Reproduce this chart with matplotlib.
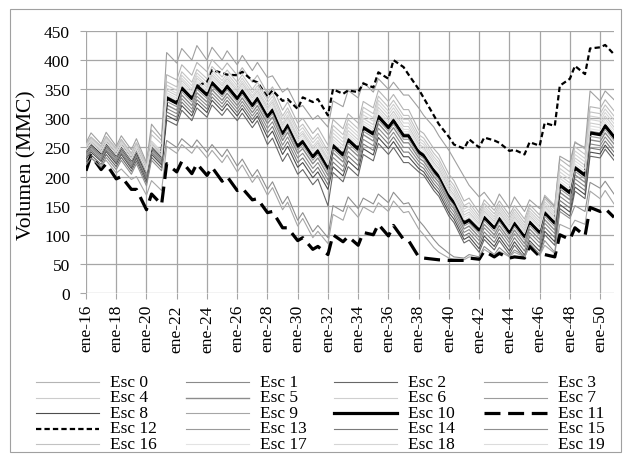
import matplotlib
matplotlib.use('Agg')
import matplotlib.pyplot as plt
from matplotlib.lines import Line2D
from matplotlib.patches import Rectangle

plt.rcParams['font.family'] = ['Liberation Serif', 'DejaVu Serif']

# one low point (January) and one high point (May) per year, plus December 2050
years = list(range(2016, 2051))
months = []
for i, y in enumerate(years):
    months += [12 * i, 12 * i + 4]
months.append(419)

tick_labels = ['ene-%02d' % (y % 100) for y in years[::2]]

# volumes (MMC) per scenario
esc0 = [256, 268, 252, 269, 248, 264, 240, 258, 220, 280, 262,
        375, 366, 392, 374, 396, 380, 401, 383, 395, 374, 387, 362, 374,
        343, 354, 314, 328, 292, 300, 274, 284, 254,
        298, 282, 308, 292, 329, 318, 348, 329, 341, 315, 315,
        280, 274, 248, 238, 204, 193, 158, 163,
        138, 160, 142, 158, 134, 150, 127, 152, 134, 168, 150,
        230, 217, 260, 247, 320, 317, 332, 313]
esc1 = [236, 248, 232, 249, 228, 244, 220, 238, 200, 244, 226,
        317, 308, 334, 316, 338, 322, 343, 325, 337, 316, 329, 304, 316,
        283, 294, 254, 268, 232, 240, 214, 224, 194,
        233, 217, 243, 227, 264, 253, 283, 264, 276, 250, 250,
        226, 220, 194, 184, 150, 139, 104, 109,
        90, 112, 94, 110, 86, 102, 79, 104, 86, 120, 102,
        166, 153, 196, 183, 256, 253, 268, 249]
esc2 = [225, 237, 221, 238, 217, 233, 209, 227, 189, 233, 215,
        297, 288, 314, 296, 318, 302, 323, 305, 317, 296, 309, 284, 296,
        255, 266, 226, 240, 204, 212, 186, 196, 150,
        207, 191, 217, 201, 238, 227, 257, 238, 250, 224, 224,
        208, 202, 176, 166, 132, 121, 86, 91,
        70, 92, 74, 90, 66, 82, 60, 84, 66, 100, 82,
        145, 132, 175, 162, 235, 232, 247, 228]
esc3 = [258, 275, 256, 276, 252, 270, 246, 265, 224, 290, 268,
        413, 395, 420, 400, 425, 400, 422, 400, 416, 392, 408, 382, 396,
        370, 373, 345, 352, 318, 322, 298, 305, 285,
        330, 320, 348, 335, 362, 345, 368, 350, 362, 340, 340,
        318, 305, 285, 270, 245, 230, 200, 185,
        165, 173, 150, 170, 145, 165, 140, 160, 145, 165, 148,
        235, 225, 258, 250, 347, 330, 347, 332]
esc4 = [249, 261, 245, 262, 241, 257, 233, 251, 213, 257, 239,
        348, 339, 365, 347, 369, 353, 374, 356, 368, 347, 360, 335, 347,
        317, 328, 288, 302, 266, 274, 248, 258, 228,
        269, 253, 279, 263, 300, 289, 319, 300, 312, 286, 286,
        256, 250, 224, 214, 180, 169, 134, 139,
        119, 141, 123, 139, 115, 131, 108, 133, 115, 149, 131,
        202, 189, 232, 219, 292, 289, 304, 285]
esc5 = [239, 251, 235, 252, 231, 247, 223, 241, 203, 247, 229,
        323, 314, 340, 322, 344, 328, 349, 331, 343, 322, 335, 310, 322,
        291, 302, 262, 276, 240, 248, 222, 232, 202,
        241, 225, 251, 235, 272, 261, 291, 272, 284, 258, 258,
        232, 226, 200, 190, 156, 145, 110, 115,
        96, 118, 100, 116, 92, 108, 85, 110, 92, 126, 108,
        173, 160, 203, 190, 263, 260, 275, 256]
esc6 = [253, 265, 249, 266, 245, 261, 237, 255, 217, 261, 243,
        357, 348, 374, 356, 378, 362, 383, 365, 377, 356, 369, 344, 356,
        327, 338, 298, 312, 276, 284, 258, 268, 238,
        281, 265, 291, 275, 312, 301, 331, 312, 324, 298, 298,
        266, 260, 234, 224, 190, 179, 144, 149,
        127, 149, 131, 147, 123, 139, 116, 141, 123, 157, 139,
        214, 201, 244, 231, 304, 301, 316, 297]
esc7 = [243, 255, 239, 256, 235, 251, 227, 245, 207, 251, 233,
        338, 329, 355, 337, 359, 343, 364, 346, 358, 337, 350, 325, 337,
        306, 317, 277, 291, 255, 263, 237, 247, 217,
        256, 240, 266, 250, 287, 276, 306, 287, 299, 273, 273,
        245, 239, 213, 203, 169, 158, 123, 128,
        110, 132, 114, 130, 106, 122, 99, 124, 106, 140, 122,
        188, 175, 218, 205, 278, 275, 290, 271]
esc8 = [230, 242, 226, 243, 222, 238, 214, 232, 194, 238, 220,
        305, 296, 322, 304, 326, 310, 331, 313, 325, 304, 317, 292, 304,
        267, 278, 238, 252, 216, 224, 198, 208, 178,
        217, 201, 227, 211, 248, 237, 267, 248, 260, 234, 234,
        214, 208, 182, 172, 138, 127, 92, 97,
        76, 98, 80, 96, 72, 88, 65, 90, 72, 106, 88,
        152, 139, 182, 169, 242, 239, 254, 235]
esc9 = [215, 232, 220, 228, 206, 213, 195, 200, 168, 193, 176,
        252, 240, 255, 240, 253, 232, 245, 224, 237, 208, 220, 190, 202,
        168, 181, 143, 156, 115, 128, 95, 106, 85,
        135, 125, 150, 130, 148, 138, 155, 140, 158, 138, 140,
        110, 100, 78, 70, 60, 58, 57, 62,
        60, 75, 64, 72, 62, 70, 62, 80, 64, 82, 68,
        118, 110, 125, 118, 175, 162, 176, 153]
esc10 = [244, 256, 240, 257, 236, 252, 228, 246, 208, 252, 234,
         335, 326, 352, 334, 356, 340, 361, 343, 355, 334, 347, 322, 334,
         303, 314, 274, 288, 252, 260, 234, 244, 214,
         253, 237, 263, 247, 284, 273, 303, 284, 296, 270, 270,
         242, 236, 210, 200, 166, 155, 120, 125,
         108, 130, 112, 128, 104, 120, 97, 122, 104, 138, 120,
         185, 172, 215, 202, 275, 272, 287, 268]
esc11 = [210, 236, 212, 222, 196, 200, 178, 178, 143, 170, 152,
         222, 208, 226, 205, 222, 202, 216, 192, 200, 176, 180, 160, 162,
         138, 140, 112, 112, 90, 95, 75, 80, 66,
         100, 88, 97, 82, 104, 100, 118, 98, 116, 92, 90,
         62, 60, 58, 57, 56, 56, 56, 60,
         58, 72, 62, 68, 60, 62, 60, 80, 63, 66, 62,
         100, 92, 112, 98, 147, 140, 145, 130]
esc12 = [244, 256, 240, 257, 236, 252, 228, 246, 208, 252, 234,
         335, 326, 352, 334, 356, 362, 383, 378, 375, 374, 380, 365, 362,
         337, 348, 330, 333, 316, 336, 328, 333, 305,
         350, 342, 348, 345, 360, 353, 379, 368, 400, 388, 375,
         350, 335, 305, 290, 268, 255, 248, 264,
         250, 267, 262, 258, 244, 246, 238, 259, 253, 292, 287,
         356, 368, 390, 376, 420, 422, 426, 410]
esc13 = [241, 253, 237, 254, 233, 249, 225, 243, 205, 249, 231,
         329, 320, 346, 328, 350, 334, 355, 337, 349, 328, 341, 316, 328,
         297, 308, 268, 282, 246, 254, 228, 238, 208,
         247, 231, 257, 241, 278, 267, 297, 278, 290, 264, 264,
         237, 231, 205, 195, 161, 150, 115, 120,
         102, 124, 106, 122, 98, 114, 91, 116, 98, 132, 114,
         179, 166, 209, 196, 269, 266, 281, 262]
esc14 = [233, 245, 229, 246, 225, 241, 217, 235, 197, 241, 223,
         311, 302, 328, 310, 332, 316, 337, 319, 331, 310, 323, 298, 310,
         275, 286, 246, 260, 224, 232, 206, 216, 186,
         225, 209, 235, 219, 256, 245, 275, 256, 268, 242, 242,
         220, 214, 188, 178, 144, 133, 98, 103,
         83, 105, 87, 103, 79, 95, 72, 97, 79, 113, 95,
         159, 146, 189, 176, 249, 246, 261, 242]
esc15 = [220, 232, 216, 233, 212, 228, 204, 222, 184, 228, 210,
         262, 250, 265, 250, 263, 242, 255, 234, 247, 218, 230, 200, 212,
         178, 191, 153, 166, 125, 138, 105, 116, 95,
         150, 140, 165, 145, 163, 153, 170, 155, 173, 153, 155,
         125, 115, 92, 82, 68, 62, 60, 66,
         62, 80, 66, 78, 63, 74, 63, 86, 66, 90, 70,
         140, 128, 150, 140, 190, 180, 192, 170]
esc16 = [255, 267, 251, 268, 247, 263, 239, 257, 219, 272, 256,
         363, 354, 380, 362, 384, 368, 389, 371, 383, 362, 375, 350, 362,
         333, 344, 304, 318, 282, 290, 264, 274, 244,
         288, 272, 298, 282, 319, 308, 338, 319, 331, 305, 305,
         272, 266, 240, 230, 196, 185, 150, 155,
         132, 154, 136, 152, 128, 144, 121, 146, 128, 162, 144,
         221, 208, 251, 238, 311, 308, 323, 304]
esc17 = [245, 257, 241, 258, 237, 253, 229, 247, 209, 253, 235,
         341, 332, 358, 340, 362, 346, 367, 349, 361, 340, 353, 328, 340,
         309, 320, 280, 294, 258, 266, 240, 250, 220,
         260, 244, 270, 254, 291, 280, 310, 291, 303, 277, 277,
         248, 242, 216, 206, 172, 161, 126, 131,
         113, 135, 117, 133, 109, 125, 102, 127, 109, 143, 125,
         192, 179, 222, 209, 282, 279, 294, 275]
esc18 = [251, 263, 247, 264, 243, 259, 235, 253, 215, 259, 241,
         352, 343, 369, 351, 373, 357, 378, 360, 372, 351, 364, 339, 351,
         321, 332, 292, 306, 270, 278, 252, 262, 232,
         275, 259, 285, 269, 306, 295, 325, 306, 318, 292, 292,
         261, 255, 229, 219, 185, 174, 139, 144,
         123, 145, 127, 143, 119, 135, 112, 137, 119, 153, 135,
         208, 195, 238, 225, 298, 295, 310, 291]
esc19 = [247, 259, 243, 260, 239, 255, 231, 249, 211, 255, 237,
         344, 335, 361, 343, 365, 349, 370, 352, 364, 343, 356, 331, 343,
         313, 324, 284, 298, 262, 270, 244, 254, 224,
         264, 248, 274, 258, 295, 284, 314, 295, 307, 281, 281,
         252, 246, 220, 210, 176, 165, 130, 135,
         116, 138, 120, 136, 112, 128, 105, 130, 112, 146, 128,
         197, 184, 227, 214, 287, 284, 299, 280]

series = [esc0, esc1, esc2, esc3, esc4, esc5, esc6, esc7, esc8, esc9,
          esc10, esc11, esc12, esc13, esc14, esc15, esc16, esc17, esc18, esc19]
names = ['Esc %d' % i for i in range(20)]

# colour, width, dash pattern
gray = {0: '#b4b4b4', 1: '#8a8a8a', 2: '#676767', 3: '#a0a0a0', 4: '#cccccc',
        5: '#8c8c8c', 6: '#cfcfcf', 7: '#9c9c9c', 8: '#4d4d4d', 9: '#a6a6a6',
        13: '#9a9a9a', 14: '#7a7a7a', 15: '#8f8f8f', 16: '#c2c2c2',
        17: '#e3e3e3', 18: '#d5d5d5', 19: '#dcdcdc'}
styles = {}
for k, c in gray.items():
    styles[k] = dict(color=c, lw=1.0 if k == 5 else 0.8)
styles[10] = dict(color='black', lw=2.3)
styles[11] = dict(color='black', lw=2.3, dashes=(5, 2.4))
styles[12] = dict(color='black', lw=1.6, dashes=(2.4, 1.4))

W, H = 624, 456
fig = plt.figure(figsize=(W / 100, H / 100), dpi=100)
ax = fig.add_axes([86 / W, 1 - 294 / H, 528 / W, 262 / H])

for i, vals in enumerate(series):
    ax.plot(months, vals, solid_joinstyle='round', **styles[i])

ax.set_xlim(0, 419)
ax.set_ylim(0, 450)
ax.set_yticks(range(0, 451, 50))
ax.set_xticks(range(0, 419, 24))
ax.set_xticklabels(tick_labels, rotation=90)
ax.grid(True, color='#a6a6a6', lw=0.9)
ax.set_axisbelow(True)
for s in ax.spines.values():
    s.set_visible(False)
ax.tick_params(axis='y', length=4, color='#a6a6a6', pad=7.5, labelsize=12.5)
ax.tick_params(axis='x', length=4, color='#a6a6a6', pad=4, labelsize=12.5)
ax.set_ylabel('Volumen (MMC)', fontsize=15.5, va='center')
ax.yaxis.set_label_coords(-0.112, 0.49)

# legend, row by row like the original
col_x = [36, 186, 334, 484]
row_y = [383, 398.5, 414, 429.5, 445]
for i, name in enumerate(names):
    r, c = divmod(i, 4)
    x0 = col_x[c]
    y = 1 - row_y[r] / H
    fig.add_artist(Line2D([x0 / W, (x0 + 63) / W], [y, y], transform=fig.transFigure,
                          **styles[i]))
    fig.text((x0 + 74) / W, y, name, fontsize=12.5, va='center', ha='left')

fig.add_artist(Rectangle((9.5 / W, 1 - 452.5 / H), 611.5 / W, 443 / H,
                         transform=fig.transFigure, fill=False,
                         edgecolor='#a0a0a0', lw=0.8))

fig.savefig('out.png', dpi=100)
